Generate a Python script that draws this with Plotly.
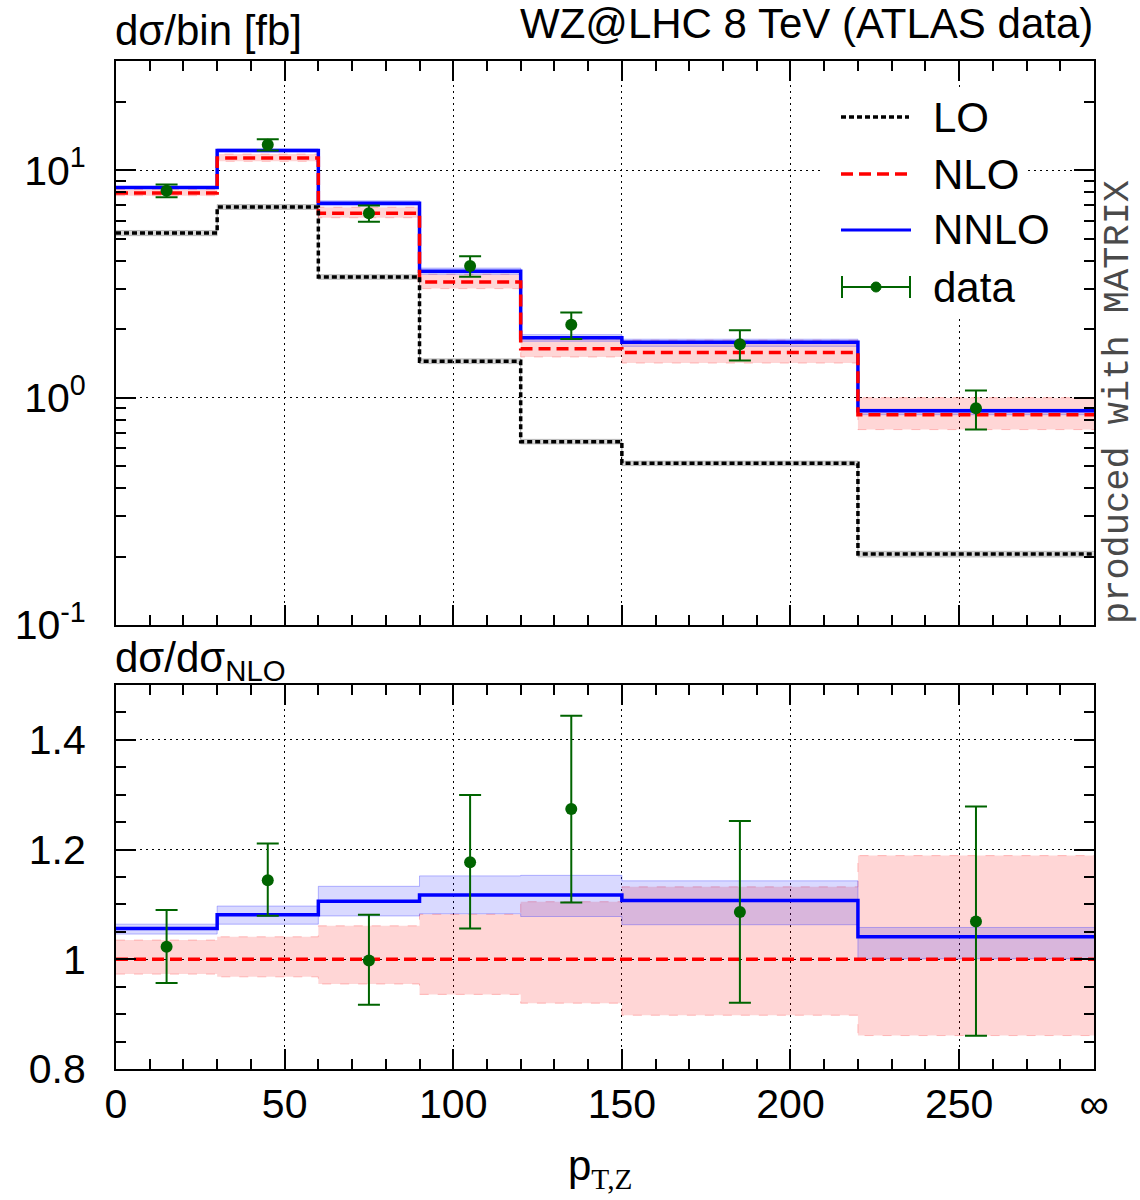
import plotly.graph_objects as go

# ---------------- data ----------------
bin_edges = [0, 30, 60, 90, 120, 150, 220, 290]
bin_centers = [15, 45, 75, 105, 135, 185, 255]

LO = [5.29, 6.89, 3.39, 1.445, 0.640, 0.514, 0.205]
LO_lo = [5.15, 6.72, 3.31, 1.41, 0.625, 0.502, 0.199]
LO_hi = [5.43, 7.06, 3.47, 1.48, 0.655, 0.526, 0.211]

NLO = [7.94, 11.3, 6.47, 3.22, 1.64, 1.58, 0.84]
NLO_ratio_lo = [0.973, 0.968, 0.955, 0.936, 0.920, 0.898, 0.861]
NLO_ratio_hi = [1.035, 1.041, 1.061, 1.082, 1.105, 1.132, 1.189]

NNLO_ratio = [1.056, 1.081, 1.106, 1.117, 1.117, 1.107, 1.041]
NNLO_ratio_lo = [1.046, 1.064, 1.079, 1.083, 1.078, 1.063, 1.001]
NNLO_ratio_hi = [1.064, 1.097, 1.133, 1.152, 1.153, 1.143, 1.058]

data = [8.12, 12.93, 6.457, 3.79, 2.089, 1.716, 0.898]
data_err_up = [0.532, 0.757, 0.537, 0.394, 0.279, 0.262, 0.176]
data_err_dn = [0.524, 0.735, 0.524, 0.390, 0.279, 0.261, 0.175]

x_tickvals = [0, 50, 100, 150, 200, 250, 290]
x_ticktext = ["0", "50", "100", "150", "200", "250", "\u221e"]
y_top_tickvals = [0.1, 1, 10]
y_top_ticktext = ["10<sup>-1</sup>", "10<sup>0</sup>", "10<sup>1</sup>"]
y_bot_tickvals = [0.8, 1.0, 1.2, 1.4]
y_bot_ticktext = ["0.8", "1", "1.2", "1.4"]

# ---------------- helpers ----------------
def step(vals):
    return list(vals) + [vals[-1]]

NNLO = [n * r for n, r in zip(NLO, NNLO_ratio)]
NNLO_lo = [n * r for n, r in zip(NLO, NNLO_ratio_lo)]
NNLO_hi = [n * r for n, r in zip(NLO, NNLO_ratio_hi)]
NLO_lo = [n * r for n, r in zip(NLO, NLO_ratio_lo)]
NLO_hi = [n * r for n, r in zip(NLO, NLO_ratio_hi)]
ratio_data = [d / n for d, n in zip(data, NLO)]
ratio_up = [e / n for e, n in zip(data_err_up, NLO)]
ratio_dn = [e / n for e, n in zip(data_err_dn, NLO)]
NLO_one = [1.0] * len(NLO)

PINK_FILL = "rgba(255,0,0,0.16)"
PINK_EDGE = "rgba(255,80,80,0.35)"
BLUE_FILL = "rgba(0,0,255,0.15)"
BLUE_EDGE = "rgba(60,60,255,0.35)"
GREY_FILL = "rgba(0,0,0,0.15)"
GREEN = "#006400"

LO_DASH = "5px,3px"
NLO_DASH = "12px,6px"
LW = 3.5

fig = go.Figure()

def band(lo, hi, fill, edge, xa, ya, dash="solid"):
    fig.add_trace(go.Scatter(x=bin_edges, y=step(lo), mode="lines", line_shape="hv",
                             line=dict(color=edge, width=1, dash=dash), showlegend=False,
                             hoverinfo="skip", xaxis=xa, yaxis=ya))
    fig.add_trace(go.Scatter(x=bin_edges, y=step(hi), mode="lines", line_shape="hv",
                             line=dict(color=edge, width=1, dash=dash), fill="tonexty",
                             fillcolor=fill, showlegend=False, hoverinfo="skip",
                             xaxis=xa, yaxis=ya))

# ---- top panel ----
band(LO_lo, LO_hi, GREY_FILL, "rgba(0,0,0,0.2)", "x", "y")
band(NLO_lo, NLO_hi, PINK_FILL, PINK_EDGE, "x", "y", dash="dash")
band(NNLO_lo, NNLO_hi, BLUE_FILL, BLUE_EDGE, "x", "y")
fig.add_trace(go.Scatter(x=bin_edges, y=step(NNLO), mode="lines", line_shape="hv",
                         line=dict(color="blue", width=LW), name="NNLO", showlegend=False,
                         xaxis="x", yaxis="y"))
fig.add_trace(go.Scatter(x=bin_edges, y=step(NLO), mode="lines", line_shape="hv",
                         line=dict(color="red", width=LW, dash=NLO_DASH), name="NLO",
                         showlegend=False, xaxis="x", yaxis="y"))
fig.add_trace(go.Scatter(x=bin_edges, y=step(LO), mode="lines", line_shape="hv",
                         line=dict(color="black", width=LW, dash=LO_DASH), name="LO",
                         showlegend=False, xaxis="x", yaxis="y"))
fig.add_trace(go.Scatter(x=bin_centers, y=data, mode="markers", name="data",
                         marker=dict(color=GREEN, size=12),
                         error_y=dict(type="data", symmetric=False, array=data_err_up,
                                      arrayminus=data_err_dn, color=GREEN, thickness=2, width=11),
                         showlegend=False, xaxis="x", yaxis="y"))

# ---- bottom panel ----
band(NLO_ratio_lo, NLO_ratio_hi, PINK_FILL, PINK_EDGE, "x2", "y2", dash="dash")
band(NNLO_ratio_lo, NNLO_ratio_hi, BLUE_FILL, BLUE_EDGE, "x2", "y2")
fig.add_trace(go.Scatter(x=bin_edges, y=step(NNLO_ratio), mode="lines", line_shape="hv",
                         line=dict(color="blue", width=LW), showlegend=False,
                         xaxis="x2", yaxis="y2"))
fig.add_trace(go.Scatter(x=bin_edges, y=step(NLO_one), mode="lines", line_shape="hv",
                         line=dict(color="red", width=LW, dash=NLO_DASH), showlegend=False,
                         xaxis="x2", yaxis="y2"))
fig.add_trace(go.Scatter(x=bin_centers, y=ratio_data, mode="markers",
                         marker=dict(color=GREEN, size=12),
                         error_y=dict(type="data", symmetric=False, array=ratio_up,
                                      arrayminus=ratio_dn, color=GREEN, thickness=2, width=11),
                         showlegend=False, xaxis="x2", yaxis="y2"))

# ---------------- layout ----------------
L, R, T, B = 116, 1094, 61, 1069
W, H = R - L, B - T
def fx(px):
    return (px - L) / W
def fy(py):
    return (B - py) / H

FONT = "Liberation Sans, Arial, sans-serif"
FS = 42
TFS = 41

common_axis = dict(showline=True, linecolor="black", linewidth=2, mirror="allticks",
                   ticks="inside", ticklen=20, tickwidth=2, tickcolor="black",
                   showgrid=True, gridcolor="black", gridwidth=1, griddash="2px,4px",
                   zeroline=False, tickfont=dict(family=FONT, size=TFS, color="black"))

x_minor = dict(ticks="inside", ticklen=10, tickwidth=2, tickcolor="black",
               tickvals=[v for v in range(10, 290, 10) if v % 50 != 0], showgrid=False)

top_minor_vals = [m * d for d in (0.1, 1, 10) for m in range(2, 10) if m * d < 30]

fig.update_layout(
    width=1140, height=1200,
    margin=dict(l=L, r=1140 - R, t=T, b=1200 - B, pad=0),
    paper_bgcolor="white", plot_bgcolor="white",
    showlegend=False,
    font=dict(family=FONT, size=FS, color="black"),
    xaxis=dict(common_axis, domain=[0, 1], anchor="y", range=[0, 290],
               tickmode="array", tickvals=x_tickvals, ticktext=x_ticktext,
               showticklabels=False, minor=x_minor),
    yaxis=dict(common_axis, domain=[1 - 564 / H, 1], anchor="x", type="log",
               range=[-1, 1.48], tickmode="array", tickvals=y_top_tickvals,
               ticktext=y_top_ticktext, ticklabelstandoff=20,
               minor=dict(ticks="inside", ticklen=10, tickwidth=2, tickcolor="black",
                          tickvals=top_minor_vals, showgrid=False)),
    xaxis2=dict(common_axis, domain=[0, 1], anchor="y2", range=[0, 290], matches="x",
                tickmode="array", tickvals=x_tickvals, ticktext=x_ticktext,
                ticklabelstandoff=-2, minor=x_minor),
    yaxis2=dict(common_axis, domain=[0, 384 / H], anchor="x2", range=[0.8, 1.5],
                tickmode="array", tickvals=y_bot_tickvals, ticktext=y_bot_ticktext,
                ticklabelstandoff=20,
                minor=dict(ticks="inside", ticklen=10, tickwidth=2, tickcolor="black",
                           tickvals=[0.85, 0.9, 0.95, 1.05, 1.1, 1.15, 1.25, 1.3, 1.35, 1.45],
                           showgrid=False)),
)

ann = []
def text(s, x, y, xanchor="left", yanchor="middle", **kw):
    d = dict(text=s, x=fx(x), y=fy(y), xref="paper", yref="paper", showarrow=False,
             xanchor=xanchor, yanchor=yanchor, font=dict(family=FONT, size=FS, color="black"))
    d.update(kw)
    ann.append(d)

text("d\u03c3/bin [fb]", 113, 30)
text("WZ@LHC 8 TeV (ATLAS data)", 1095, 24, xanchor="right")
text("d\u03c3/d\u03c3<sub>NLO</sub>", 113, 660)
text('p<sub><span style="font-family:Liberation Serif, Times New Roman, serif">T,Z</span></sub>',
     600, 1168, xanchor="center")
text("produced with MATRIX", 1118, 402, xanchor="center", textangle=-90,
     font=dict(family="Liberation Mono, Courier New, monospace", size=37, color="#4a4a4a"))

# legend (manual)
leg_y = {"LO": 117, "NLO": 174, "NNLO": 230, "data": 287}
for k, yy in leg_y.items():
    text(k, 931, yy)

shapes = [dict(type="rect", xref="paper", yref="paper", x0=fx(820), x1=fx(1026),
               y0=fy(318), y1=fy(90), fillcolor="white", line=dict(width=0), layer="above")]
shapes.append(dict(type="line", xref="paper", yref="paper", x0=fx(841), x1=fx(909),
                   y0=fy(leg_y["LO"]), y1=fy(leg_y["LO"]),
                   line=dict(color="black", width=LW, dash=LO_DASH), layer="above"))
shapes.append(dict(type="line", xref="paper", yref="paper", x0=fx(841), x1=fx(911),
                   y0=fy(leg_y["NLO"]), y1=fy(leg_y["NLO"]),
                   line=dict(color="red", width=LW, dash=NLO_DASH), layer="above"))
shapes.append(dict(type="line", xref="paper", yref="paper", x0=fx(841), x1=fx(911),
                   y0=fy(leg_y["NNLO"]), y1=fy(leg_y["NNLO"]),
                   line=dict(color="blue", width=3), layer="above"))
yd = leg_y["data"]
shapes.append(dict(type="line", xref="paper", yref="paper", x0=fx(842), x1=fx(910),
                   y0=fy(yd), y1=fy(yd), line=dict(color=GREEN, width=2), layer="above"))
for xc in (842, 910):
    shapes.append(dict(type="line", xref="paper", yref="paper", x0=fx(xc), x1=fx(xc),
                       y0=fy(yd - 11), y1=fy(yd + 11), line=dict(color=GREEN, width=2),
                       layer="above"))
shapes.append(dict(type="circle", xref="paper", yref="paper", x0=fx(871), x1=fx(881),
                   y0=fy(yd + 5), y1=fy(yd - 5), fillcolor=GREEN, line=dict(color=GREEN, width=1),
                   layer="above"))

fig.update_layout(annotations=ann, shapes=shapes)

fig.write_html("out.html")
